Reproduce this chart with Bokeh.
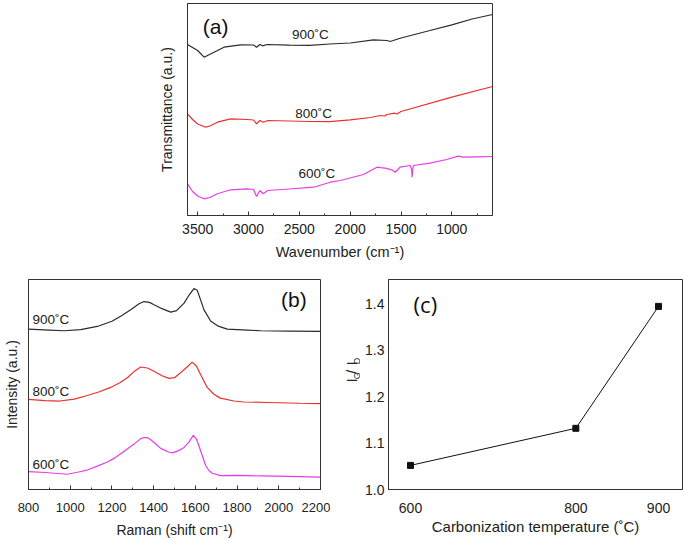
import math
from bokeh.plotting import figure
from bokeh.models import Range1d, Label, FixedTicker, SingleIntervalTicker, PrintfTickFormatter
from bokeh.layouts import column, row
from bokeh.embed import file_html
from bokeh.resources import INLINE
from bokeh.core.properties import value

FONT = "Liberation Sans"
AXC = "#333333"
BLACK = "#2b2b2b"
RED = "#e8312e"
MAG = "#e63ce6"

# ---------------- (a) FTIR ----------------
ftir_wn_900 = [3600, 3500, 3437, 3339, 3241, 3077, 2950, 2921, 2888, 2862, 2816, 2600, 2400, 2200, 2000,
               1771, 1639, 1607, 1500, 1215, 1000, 800, 600]
ftir_900 = [171.0, 165.0, 158.3, 163.3, 168.3, 170.7, 170.5, 168.3, 171.0, 169.7, 171.0, 170.3, 170.2, 171.5, 172.5,
            175.7, 175.0, 174.0, 177.5, 185.0, 190.7, 196.5, 201.0]

ftir_wn_800 = [3600, 3550, 3500, 3421, 3380, 3306, 3175, 3012, 2950, 2921, 2888, 2855, 2810, 2600, 2400, 2200,
               2000, 1800, 1700, 1660, 1640, 1560, 1540, 1500, 1000, 600]
ftir_800 = [101.7, 96.0, 91.5, 88.3, 89.5, 93.3, 96.7, 96.0, 95.5, 91.7, 95.0, 93.3, 95.0, 94.5, 94.0, 93.8,
            95.7, 98.0, 100.0, 99.5, 101.0, 102.3, 101.5, 104.0, 118.3, 129.0]

ftir_wn_600 = [3600, 3550, 3500, 3437, 3380, 3306, 3175, 3012, 2950, 2921, 2888, 2855, 2810, 2600, 2359, 2195,
               2097, 1869, 1737, 1700, 1656, 1590, 1558, 1530, 1509, 1411, 1395, 1391, 1385, 1378, 1215, 1050,
               937, 888, 750, 600]
ftir_600 = [31.7, 24.0, 19.5, 16.7, 18.0, 21.7, 25.7, 26.7, 26.0, 19.0, 25.0, 21.7, 25.0, 26.5, 28.3, 33.3,
            35.0, 41.0, 48.3, 47.8, 47.3, 45.7, 43.3, 46.0, 48.3, 50.0, 46.0, 38.3, 46.0, 50.0, 52.3, 56.0,
            59.3, 58.3, 58.7, 59.0]

# ---------------- (b) Raman ----------------
raman_shift_900 = [800, 900, 970, 1050, 1130, 1200, 1242, 1290, 1330, 1354, 1380, 1402, 1440, 1482, 1510, 1546,
                   1570, 1593, 1609, 1625, 1641, 1673, 1710, 1753, 1850, 1912, 2050, 2200]
raman_900 = [165.0, 164.0, 163.3, 164.5, 167.7, 173.0, 178.3, 185.0, 191.0, 193.3, 192.5, 190.0, 186.0, 182.5,
             184.0, 191.7, 200.0, 206.7, 205.0, 195.0, 185.0, 173.3, 168.0, 165.0, 164.0, 163.3, 163.0, 162.7]

raman_shift_800 = [800, 880, 950, 1020, 1082, 1140, 1194, 1240, 1274, 1310, 1338, 1370, 1402, 1440, 1474, 1500,
                   1529, 1560, 1585, 1605, 1625, 1657, 1689, 1720, 1785, 1833, 1950, 2100, 2200]
raman_800 = [92.7, 91.5, 91.0, 93.0, 96.7, 100.5, 105.0, 110.0, 115.0, 122.0, 126.0, 125.0, 121.7, 117.0, 114.3,
             115.0, 120.0, 126.0, 131.0, 127.0, 118.3, 105.0, 98.0, 94.0, 91.0, 90.0, 89.5, 88.7, 88.3]

raman_shift_600 = [800, 880, 986, 1040, 1082, 1130, 1178, 1210, 1242, 1275, 1306, 1338, 1355, 1370, 1385, 1402,
                   1434, 1474, 1490, 1520, 1546, 1570, 1590, 1605, 1617, 1633, 1649, 1665, 1681, 1721, 1800,
                   1912, 2050, 2200]
raman_600 = [18.3, 17.5, 15.7, 18.0, 20.0, 24.0, 28.3, 32.0, 36.7, 42.0, 46.7, 52.3, 53.5, 53.3, 51.5, 48.3,
             42.3, 38.3, 37.7, 40.0, 43.3, 49.0, 55.7, 52.0, 45.0, 35.0, 25.0, 19.5, 16.7, 14.3, 14.5,
             14.0, 13.5, 12.7]

# ---------------- (c) IG/ID ----------------
carb_temp = [600, 800, 900]
ig_id = [1.052, 1.132, 1.395]
ratio_ticks = [1.0, 1.1, 1.2, 1.3, 1.4]

series_labels = ["900˚C", "800˚C", "600˚C"]


def style(p, tick_size):
    p.background_fill_color = "white"
    p.border_fill_color = "white"
    p.grid.visible = False
    p.outline_line_color = AXC
    p.outline_line_alpha = 1.0
    p.outline_line_width = 1
    for ax in (p.xaxis[0], p.yaxis[0]):
        ax.axis_line_color = AXC
        ax.major_tick_line_color = AXC
        ax.minor_tick_line_color = AXC
        ax.major_label_text_font = FONT
        ax.major_label_text_font_size = tick_size
        ax.major_label_text_color = "#222222"
        ax.axis_label_text_font = FONT
        ax.axis_label_text_font_style = "normal"
        ax.axis_label_text_color = "#222222"


def no_ticks(ax):
    ax.major_tick_in = 0
    ax.major_tick_out = 0
    ax.minor_tick_in = 0
    ax.minor_tick_out = 0


# ---- figure (a)
pa = figure(width=685, height=268, x_range=Range1d(3600, 600), y_range=Range1d(0, 212),
            output_backend="svg", toolbar_location=None,
            min_border_left=187, min_border_right=193, min_border_top=3, min_border_bottom=53)
style(pa, "14px")
pa.xaxis.ticker = SingleIntervalTicker(interval=500, num_minor_ticks=2)
pa.xaxis.major_tick_in = 4
pa.xaxis.major_tick_out = 0
pa.xaxis.minor_tick_in = 2
pa.xaxis.minor_tick_out = 0
pa.xaxis.major_label_standoff = 8
pa.xaxis.axis_label = "Wavenumber (cm⁻¹)"
pa.xaxis.axis_label_text_font_size = "14.5px"
pa.xaxis.axis_label_standoff = 7
pa.yaxis.ticker = FixedTicker(ticks=[])
no_ticks(pa.yaxis[0])
pa.yaxis.major_label_standoff = 0
pa.yaxis.axis_label = "Transmittance (a.u.)"
pa.yaxis.axis_label_text_font_size = "14px"
pa.yaxis.axis_label_standoff = 13

pa.line(ftir_wn_900, ftir_900, line_color=BLACK, line_width=1.2)
pa.line(ftir_wn_800, ftir_800, line_color=RED, line_width=1.2)
pa.line(ftir_wn_600, ftir_600, line_color=MAG, line_width=1.2)
for txt, (xx, yy) in zip(series_labels, [(2391, 180.7), (2359, 101.7), (2328, 41.7)]):
    pa.add_layout(Label(x=xx, y=yy, text=txt, text_font=FONT, text_font_size="13.5px",
                        text_align="center", text_baseline="middle", text_color="#222222"))
pa.add_layout(Label(x=3323, y=189, text="(a)", text_font=FONT, text_font_size="21px",
                    text_align="center", text_baseline="middle", text_color="#111111"))

# ---- figure (b)
pb = figure(width=330, height=272, x_range=Range1d(800, 2200), y_range=Range1d(0, 216),
            output_backend="svg", toolbar_location=None,
            min_border_left=28, min_border_right=10, min_border_top=11, min_border_bottom=45)
style(pb, "13px")
pb.xaxis.ticker = SingleIntervalTicker(interval=200, num_minor_ticks=2)
pb.xaxis.major_tick_in = 4
pb.xaxis.major_tick_out = 0
pb.xaxis.minor_tick_in = 2
pb.xaxis.minor_tick_out = 0
pb.xaxis.major_label_standoff = 13
pb.xaxis.axis_label = "Raman (shift cm⁻¹)"
pb.xaxis.axis_label_text_font_size = "14px"
pb.xaxis.axis_label_standoff = 7
pb.yaxis.ticker = FixedTicker(ticks=[])
no_ticks(pb.yaxis[0])
pb.yaxis.major_label_standoff = 0
pb.yaxis.axis_label = "Intensity (a.u.)"
pb.yaxis.axis_label_text_font_size = "14px"
pb.yaxis.axis_label_standoff = 9

pb.line(raman_shift_900, raman_900, line_color=BLACK, line_width=1.2)
pb.line(raman_shift_800, raman_800, line_color=RED, line_width=1.2)
pb.line(raman_shift_600, raman_600, line_color=MAG, line_width=1.2)
for txt, yy in zip(series_labels, [175, 101, 26]):
    pb.add_layout(Label(x=819, y=yy, text=txt, text_font=FONT, text_font_size="13.5px",
                        text_align="left", text_baseline="middle", text_color="#222222"))
pb.add_layout(Label(x=2072, y=195, text="(b)", text_font=FONT, text_font_size="21px",
                    text_align="center", text_baseline="middle", text_color="#111111"))

# ---- y-axis title of (c): I_G / I_D (narrow strip, page-pixel coordinates)
plab = figure(width=30, height=272, x_range=Range1d(330, 360), y_range=Range1d(540, 268),
              output_backend="svg", toolbar_location=None, x_axis_location=None, y_axis_location=None,
              min_border_left=0, min_border_right=0, min_border_top=0, min_border_bottom=0)
plab.grid.visible = False
plab.outline_line_color = None
ang = math.pi / 2
plab.text(x=[350.7, 350.7], y=[401.5, 390.3], text=["I", "/ I"], angle=ang,
          text_font=value(FONT), text_font_size=value("15px"), text_align="left",
          text_baseline="alphabetic", text_color="#222222")
plab.text(x=[356.0, 356.0], y=[397.3, 377.8], text=["G", "D"], angle=ang,
          text_font=value(FONT), text_font_size=value("9px"), text_align="left",
          text_baseline="alphabetic", text_color="#222222")

# ---- figure (c)
pc = figure(width=325, height=272, x_range=Range1d(573.4, 929), y_range=Range1d(1.0, 1.453),
            output_backend="svg", toolbar_location=None,
            min_border_left=28, min_border_right=3, min_border_top=10, min_border_bottom=47)
style(pc, "14px")
pc.xaxis.ticker = FixedTicker(ticks=carb_temp)
pc.yaxis.ticker = FixedTicker(ticks=ratio_ticks)
pc.yaxis.formatter = PrintfTickFormatter(format="%.1f")
no_ticks(pc.xaxis[0])
no_ticks(pc.yaxis[0])
pc.xaxis.major_label_standoff = 13
pc.yaxis.major_label_standoff = 4
pc.xaxis.axis_label = "Carbonization temperature (˚C)"
pc.xaxis.axis_label_text_font_size = "15px"
pc.xaxis.axis_label_standoff = 2

pc.line(carb_temp, ig_id, line_color="#111111", line_width=1)
pc.scatter(carb_temp, ig_id, marker="square", size=6, color="#111111")
pc.add_layout(Label(x=618, y=1.4, text="(c)", text_font="Open Sans", text_font_size="22px",
                    text_align="center", text_baseline="middle", text_color="#111111"))

layout = column(pa, row(pb, plab, pc))
open("out.html", "w").write(file_html(layout, INLINE))
